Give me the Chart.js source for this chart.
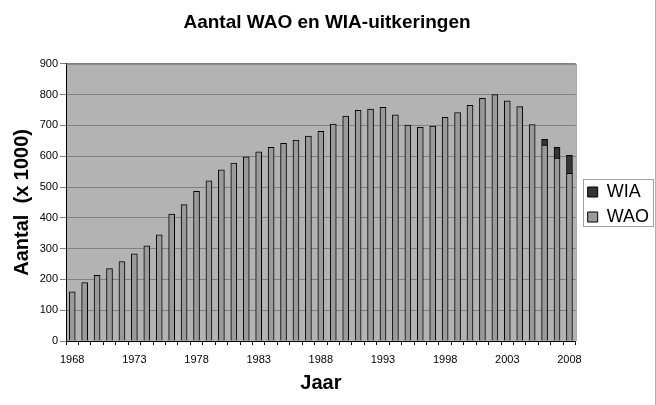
<!DOCTYPE html>
<html><head><meta charset="utf-8">
<script src="https://cdn.jsdelivr.net/npm/chart.js@4/dist/chart.umd.min.js"></script>
<style>html,body{margin:0;padding:0;background:#fff}#wrap{width:656px;height:405px}</style>
</head><body><div id="wrap"><canvas id="c"></canvas></div>
<script>
const years = ['1968','1969','1970','1971','1972','1973','1974','1975','1976','1977',
  '1978','1979','1980','1981','1982','1983','1984','1985','1986','1987',
  '1988','1989','1990','1991','1992','1993','1994','1995','1996','1997',
  '1998','1999','2000','2001','2002','2003','2004','2005','2006','2007','2008'];
const shownYears = ['1968','1973','1978','1983','1988','1993','1998','2003','2008'];
const wao = [160,190,213,235,258,283,309,345,412,443,
  486,520,556,578,598,614,629,642,652,665,
  681,704,730,749,753,759,734,701,694,698,
  726,742,765,788,800,780,761,703,636,594,544];
const wia = [null,null,null,null,null,null,null,null,null,null,
  null,null,null,null,null,null,null,null,null,null,
  null,null,null,null,null,null,null,null,null,null,
  null,null,null,null,null,null,null,null,19,35,59];

const F = "'Liberation Sans', Arial, sans-serif";
Chart.defaults.font.family = F;
Chart.defaults.color = '#000';

// grey plot area, frame round the plot, box round the legend, right edge line
const frame = {
  id:'frame',
  afterLayout(ch){
    const lg = ch.legend;
    lg.left += 5; lg.right += 5; lg.top += 2; lg.bottom += 2;
  },
  beforeDraw(ch){
    const a = ch.chartArea, c = ch.ctx;
    c.save(); c.fillStyle = '#b3b3b3';
    c.fillRect(a.left, a.top, a.right-a.left, a.bottom-a.top); c.restore();
  },
  afterDraw(ch){
    const a = ch.chartArea, c = ch.ctx, hb = ch.legend.legendHitBoxes;
    c.save();
    c.strokeStyle = '#808080'; c.lineWidth = 1;
    c.beginPath(); c.moveTo(a.left, a.top+0.5); c.lineTo(a.right+0.5, a.top+0.5); c.lineTo(a.right+0.5, a.bottom); c.stroke();
    if (hb.length){
      const l = Math.min(...hb.map(h=>h.left)) - 5, t = Math.min(...hb.map(h=>h.top)) - 4;
      const b = Math.max(...hb.map(h=>h.top+h.height));
      c.strokeStyle = '#a0a0a0';
      c.strokeRect(Math.round(l)+0.5, Math.round(t)+0.5, 70, Math.round(b-t));
    }
    c.strokeStyle = '#b0b0b0';
    c.beginPath(); c.moveTo(655.5, 0); c.lineTo(655.5, 405); c.stroke();
    c.restore();
  }
};

new Chart(document.getElementById('c'), {
  type:'bar',
  data:{labels:years, datasets:[
    {label:'WAO', data:wao, backgroundColor:'#9a9a9a', borderColor:'#000', borderWidth:1, barThickness:6},
    {label:'WIA', data:wia, backgroundColor:'#353535', borderColor:'#000', borderWidth:1, barThickness:6}
  ]},
  options:{
    responsive:true, maintainAspectRatio:false, animation:false,
    layout:{padding:{left:0, right:2, top:0, bottom:0}},
    plugins:{
      title:{display:true, text:'Aantal WAO en WIA-uitkeringen', color:'#000',
        font:{family:F, size:19, weight:'bold'}, padding:{top:11, bottom:30}},
      legend:{position:'right', reverse:true,
        labels:{boxWidth:10, boxHeight:10, padding:7, color:'#000', font:{family:F, size:18}}},
      tooltip:{enabled:false}
    },
    scales:{
      x:{stacked:true,
        grid:{drawOnChartArea:false, drawTicks:true, tickLength:4, color:'#000', offset:true},
        border:{color:'#000'},
        ticks:{autoSkip:false, maxRotation:0, padding:8, color:'#000', font:{family:F, size:11},
          callback:(v,i)=> shownYears.includes(years[i]) ? years[i] : ''},
        title:{display:true, text:'Jaar', color:'#000', font:{family:F, size:20, weight:'bold'}, padding:{bottom:10}},
        afterFit:s=>{ s.height = 64; }
      },
      y:{stacked:true, min:0, max:900,
        grid:{color:'#808080', tickLength:6, drawTicks:true},
        border:{color:'#000'},
        ticks:{stepSize:100, padding:2, color:'#000', font:{family:F, size:11}},
        title:{display:true, text:'Aantal  (x 1000)', color:'#000', font:{family:F, size:20, weight:'bold'}, padding:{top:10}},
        afterFit:s=>{ s.width = 66; }
      }
    }
  },
  plugins:[frame]
});
</script>
</body></html>
